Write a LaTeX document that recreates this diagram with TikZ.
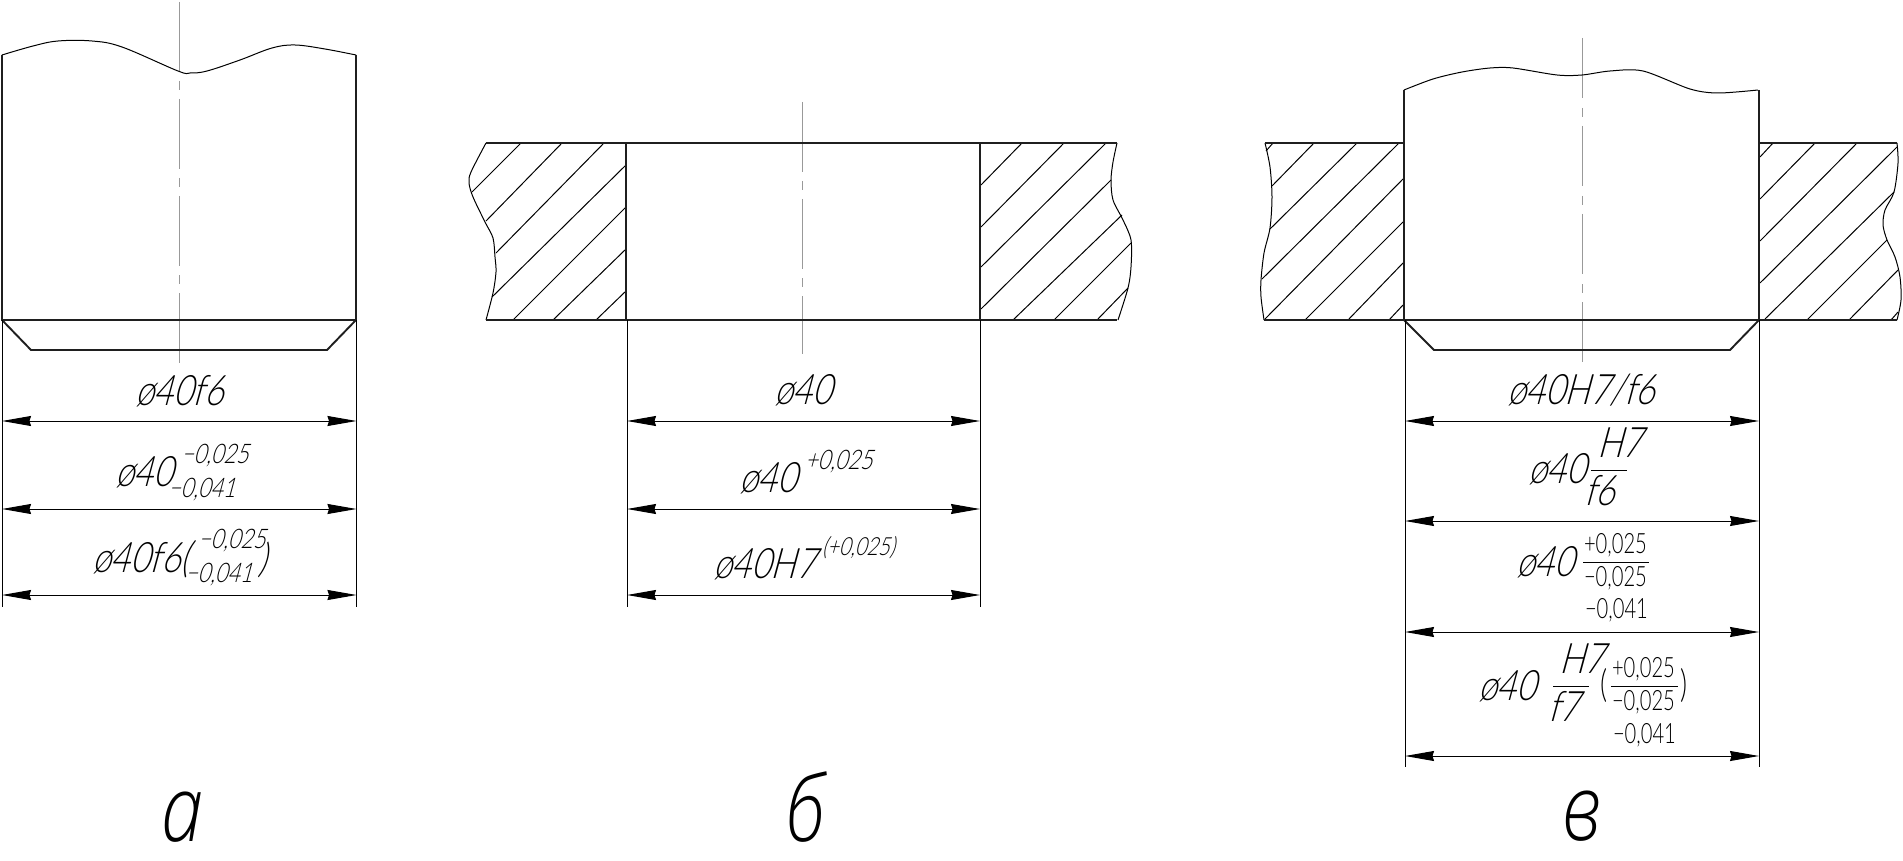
\documentclass[tikz,border=0pt]{standalone}
\usepackage{fontspec}
\usetikzlibrary{arrows.meta}
\newfontfamily\gostsl[FakeSlant=.27,FakeStretch=.8]{Lato Light}
\newfontfamily\gostsltiny[FakeSlant=.27,FakeStretch=.8]{Lato Light}
\newfontfamily\gostup[FakeStretch=.72]{Lato Light}
\newfontfamily\gostlab[FakeStretch=.82]{Open Sans Light Italic}
\tikzset{
  mainln/.style={line width=1.9pt,draw=black!88,line join=miter},
  thinln/.style={line width=1pt,draw=black},
  axisln/.style={line width=1pt,draw=black!40},
  dimln/.style={line width=1pt,draw=black,{Stealth[length=29pt,width=10pt,inset=1.5pt]}-{Stealth[length=29pt,width=10pt,inset=1.5pt]}},
  txt/.style={anchor=base west,inner sep=0pt,outer sep=0pt,text=black},
  big/.style={txt,font=\gostsl\fontsize{42}{42}\selectfont},
  small/.style={txt,font=\gostsl\fontsize{27}{27}\selectfont},
  tiny/.style={txt,font=\gostsltiny\fontsize{25}{25}\selectfont},
  upsmall/.style={txt,font=\gostup\fontsize{28}{28}\selectfont},
  paren/.style={txt,font=\gostsl\fontsize{40}{40}\selectfont},
  upparen/.style={txt,font=\gostup\fontsize{38}{38}\selectfont},
  letter/.style={txt,font=\gostlab\fontsize{92}{92}\selectfont},
}
\begin{document}
\begin{tikzpicture}[x=1pt,y=-1pt]
\useasboundingbox (0,0) rectangle (1903,861);
% ---------- axes
\coordinate (axA1) at (179,2);    \coordinate (axA2) at (179,363);
\coordinate (axB1) at (802.5,102);\coordinate (axB2) at (802.5,354);
\coordinate (axC1) at (1582,38);  \coordinate (axC2) at (1582,363);
\draw[axisln,dash pattern=on 70pt off 9pt on 9pt off 9pt] (axA1) -- (axA2);
\draw[axisln,dash pattern=on 70pt off 9pt on 9pt off 9pt] (axB1) -- (axB2);
\draw[axisln,dash pattern=on 60pt off 10pt on 9pt off 9pt] (axC1) -- (axC2);
% ---------- hatching
\draw[thinln]
 (521,143)--(472,192) (562,143)--(486,221) (604,143)--(496,253) (626,165)--(492,297)
 (626,207)--(513,320) (626,249)--(553,320) (626,291)--(596,320)
 (1022,143)--(981,185) (1064,143)--(981,227) (1106,143)--(981,267) (1111,180)--(981,309)
 (1122,215)--(1013,320) (1131,243)--(1054,320) (1128,288)--(1097,320)
 (1273,143)--(1266,151) (1314,143)--(1272,186) (1357,143)--(1270,229) (1399,143)--(1262,279)
 (1403,179)--(1265,319) (1403,222)--(1305,320) (1403,263)--(1348,320) (1403,305)--(1389,320)
 (1773,143)--(1760,157) (1815,143)--(1760,199) (1857,143)--(1760,241) (1897,147)--(1760,283)
 (1894,192)--(1765,319) (1887,240)--(1807,320) (1898,270)--(1849,320) (1898,312)--(1891,320);
% ---------- break lines
\draw[thinln] plot[smooth,tension=.6] coordinates {(2,55)(33,46)(58,41)(92,41)(122,47)(178,71)(190,73)(207,71)(240,60)(272,48)(295,45)(325,49)(356,55)};
\draw[thinln] plot[smooth,tension=.5] coordinates {(486,143)(471,172)(469,183)(473,197)(485,222)(493,238)(495,257)(496,272)(493,293)(486,320)};
\draw[thinln] plot[smooth,tension=.5] coordinates {(1117,143)(1113,162)(1111,180)(1113,200)(1123,220)(1131,240)(1131,267)(1128,288)(1118,320)};
\draw[thinln] plot[smooth,tension=.5] coordinates {(1265,143)(1270,167)(1272,197)(1270,228)(1264,253)(1261,280)(1261,297)(1264,320)};
\draw[thinln] plot[smooth,tension=.5] coordinates {(1404,90)(1433,79)(1462,72)(1490,68)(1513,68)(1557,75)(1582,75)(1610,71)(1643,71)(1690,89)(1718,93)(1758,90)};
\draw[thinln] plot[smooth,tension=.5] coordinates {(1897,143)(1898,163)(1894,192)(1885,210)(1883,225)(1887,240)(1895,257)(1900,277)(1901,300)(1897,320)};
% ---------- part a
\draw[mainln] (2,55)--(2,320)--(356,320)--(356,55);
\draw[mainln] (2,320)--(31,350)--(327,350)--(356,320);
% ---------- part b
\draw[mainln] (486,143)--(1117,143) (486,320)--(1117,320) (626,143)--(626,320) (980,143)--(980,320);
% ---------- part c
\draw[mainln] (1265,143)--(1404,143) (1759,143)--(1897,143) (1264,320)--(1897,320);
\draw[mainln] (1404,90)--(1404,320) (1759,90)--(1759,320);
\draw[mainln] (1404,320)--(1434,350)--(1730,350)--(1759,320);
% ---------- extension lines
\coordinate (eA1) at (2,320);   \coordinate (eA1e) at (2,607);
\coordinate (eA2) at (356.5,320); \coordinate (eA2e) at (356.5,607);
\coordinate (eB1) at (627,320); \coordinate (eB1e) at (627,607);
\coordinate (eB2) at (980,320); \coordinate (eB2e) at (980,607);
\coordinate (eC1) at (1405,320);\coordinate (eC1e) at (1405,767);
\coordinate (eC2) at (1759,320);\coordinate (eC2e) at (1759,767);
\draw[thinln] (eA1)--(eA1e) (eA2)--(eA2e) (eB1)--(eB1e) (eB2)--(eB2e) (eC1)--(eC1e) (eC2)--(eC2e);
% ---------- dimension lines
\foreach \n/\l/\r/\y in {a1/2/356.5/421,a2/2/356.5/509,a3/2/356.5/595,
  b1/627/980/421,b2/627/980/509,b3/627/980/595,
  c1/1405/1759/421,c2/1405/1759/521,c3/1405/1759/632,c4/1405/1759/756}{
  \coordinate (\n l) at (\l,\y);
  \coordinate (\n r) at (\r,\y);
  \draw[dimln] (\n l)--(\n r);
}
% ---------- texts a
\node[big]   (ta1)  at (135,405) {ø40f6};
\node[big]   (ta2)  at (115,486) {ø40};
\node[small] (ta2u) at (181,463) {−0,025};
\node[small] (ta2d) at (168,497) {−0,041};
\node[big]   (ta3)  at (92,572)  {ø40f6(};
\node[small] (ta3u) at (198,548) {−0,025};
\node[small] (ta3d) at (185,582) {−0,041};
\node[paren] (ta3p) at (258,572) {)};
% ---------- texts b
\node[big]   (tb1)  at (774,404) {ø40};
\node[big]   (tb2)  at (739,492) {ø40};
\node[small] (tb2u) at (805,469) {+0,025};
\node[big]   (tb3)  at (713,578) {ø40H7};
\node[tiny]  (tb3u) at (822,555) {(+0,025)};
% ---------- texts c
\node[big]   (tc1)  at (1507,404) {ø40H7/f6};
\node[big]   (tc2)  at (1528,483) {ø40};
\node[big]   (tc2u) at (1597,457) {H7};
\node[big]   (tc2d) at (1584,505) {f6};
\coordinate (fr2l) at (1591,470); \coordinate (fr2r) at (1627,470);
\draw[thinln] (fr2l)--(fr2r);
\node[big]     (tc3)  at (1516,576) {ø40};
\node[upsmall] (tc3u) at (1584,553) {+0,025};
\coordinate (fr3l) at (1583,562); \coordinate (fr3r) at (1649,562);
\draw[thinln] (fr3l)--(fr3r);
\node[upsmall] (tc3m) at (1584,586) {−0,025};
\node[upsmall] (tc3d) at (1585,618) {−0,041};
\node[big]   (tc4)  at (1478,700) {ø40};
\node[big]   (tc4u) at (1559,673) {H7};
\node[big]   (tc4d) at (1548,721) {f7};
\coordinate (fr4l) at (1553,686); \coordinate (fr4r) at (1589,686);
\draw[thinln] (fr4l)--(fr4r);
\node[upparen] (tc4p) at (1600,697) {(};
\node[upsmall] (tc4a) at (1612,677) {+0,025};
\coordinate (fr5l) at (1611,686); \coordinate (fr5r) at (1678,686);
\draw[thinln] (fr5l)--(fr5r);
\node[upsmall] (tc4b) at (1612,710) {−0,025};
\node[upparen] (tc4q) at (1680,697) {)};
\node[upsmall] (tc4c) at (1613,743) {−0,041};
% ---------- letters
\node[letter] (la) at (161,841) {а};
\node[letter] (lb) at (786,841) {б};
\node[letter] (lc) at (1562,840) {в};
\end{tikzpicture}
\end{document}
